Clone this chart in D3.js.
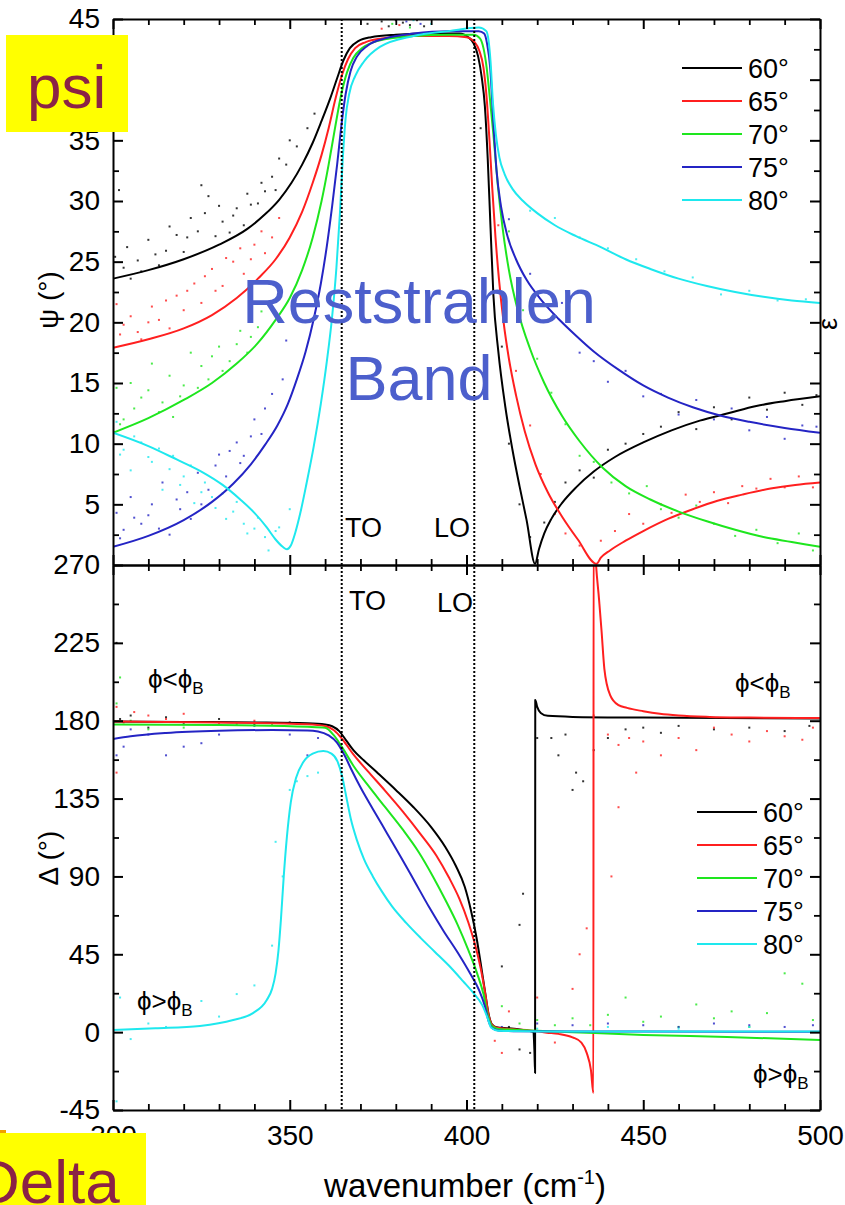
<!DOCTYPE html>
<html>
<head>
<meta charset="utf-8">
<script src="https://cdn.jsdelivr.net/npm/d3@7"></script>
<style>
  body { margin: 0; background: #fff; }
  svg { display: block; }
  text { font-family: "Liberation Sans", Arial, sans-serif; }
</style>
</head>
<body>
<svg id="chart" width="845" height="1205"></svg>
<script>
// ---- series labels and colours ----
const angles = ["60°", "65°", "70°", "75°", "80°"];
const colors = ["#000000", "#ff1f1f", "#1ee61e", "#2424c4", "#1ee8ee"];

// ---- axis ticks ----
const xTicks = [300, 350, 400, 450, 500];
const xMinor = [310, 320, 330, 340, 360, 370, 380, 390, 410, 420, 430, 440, 460, 470, 480, 490];
const psiTicks = [5, 10, 15, 20, 25, 30, 35, 40, 45];
const psiMinor = [2.5, 7.5, 12.5, 17.5, 22.5, 27.5, 32.5, 37.5, 42.5];
const psiHidden = [40];            // label sits under the "psi" tag
const deltaTicks = [-45, 0, 45, 90, 135, 180, 225, 270];
const deltaMinor = [-22.5, 22.5, 67.5, 112.5, 157.5, 202.5, 247.5];

// phonon frequencies (cm-1)
const phononTO = 364.7;
const phononLO = 402.2;

// ---- Psi model curves [wavenumber, psi] ----
const psi60 = [[300,23.6],[310,24.3],[320,25.2],[330,26.4],[338,27.7],[343,28.9],[347,30.1],[350.5,31.5],[353.5,33.0],[356.5,34.8],[359,36.6],[361.5,38.5],[363.5,40.2],[365.2,41.6],[367,42.6],[369.5,43.2],[373,43.5],[380,43.7],[390,43.8],[398,43.8],[400.5,43.5],[402,43.0],[403.3,41.9],[404.3,40.2],[405.2,37.8],[406,33.5],[406.8,27.8],[407.6,22.3],[409,17.6],[411,13.0],[413,9.5],[415,6.5],[417,3.7],[419.4,0.1],[420.5,1.3],[422,2.6],[424,3.8],[427,5.1],[431,6.4],[436,7.7],[442,8.9],[450,10.1],[458,11.1],[466,11.9],[474,12.5],[482,13.1],[490,13.5],[500,13.9]];
const psi65 = [[300,17.9],[310,18.6],[320,19.5],[328,20.6],[335,22.0],[341,23.6],[346,25.2],[350,27.0],[353.5,29.1],[356.5,31.5],[359,33.8],[361,36.0],[363,38.5],[364.8,40.4],[366.5,41.7],[368.5,42.6],[371.5,43.1],[376,43.4],[385,43.6],[395,43.6],[400,43.5],[402.3,43.1],[403.6,42.4],[404.8,41.0],[405.7,38.5],[406.5,35.0],[407.3,31.0],[408.2,27.0],[409.2,23.5],[410.5,20.0],[412,17.0],[414,14.0],[416.5,11.0],[419.5,8.3],[423,6.0],[427,4.0],[431.5,2.1],[436.8,0.1],[438,0.6],[440.6,1.2],[445,2.0],[450,2.8],[457,3.8],[464,4.6],[471,5.3],[478,5.8],[486,6.3],[493,6.6],[500,6.8]];
const psi70 = [[300,10.9],[310,12.1],[320,13.6],[328,15.0],[335,16.6],[341,18.3],[346,20.2],[350,22.0],[353.5,24.3],[356.5,27.0],[359,30.0],[361,33.0],[362.8,36.0],[364.5,38.7],[366.2,40.6],[368,41.8],[370.5,42.6],[375,43.2],[385,43.6],[395,43.7],[402,43.7],[403.8,43.4],[404.8,42.6],[405.7,41.0],[406.6,38.5],[407.6,35.5],[408.8,31.5],[410.2,27.8],[412,24.3],[414.5,21.0],[418,17.8],[422,15.0],[427,12.3],[432,10.2],[438.6,8.0],[445,6.5],[452,5.4],[460,4.4],[468,3.6],[476,2.9],[484,2.3],[492,1.9],[500,1.5]];
const psi75 = [[300,1.5],[310,2.4],[320,3.7],[328,5.2],[334,6.7],[339,8.3],[343,9.9],[346.5,11.5],[349.5,13.3],[352,15.3],[354.5,17.6],[356.8,20.3],[358.8,23.2],[360.5,26.3],[362,29.6],[363.4,33.0],[364.6,36.2],[365.8,38.8],[367.2,40.7],[369,41.9],[372,42.8],[377,43.4],[385,43.8],[395,44.0],[403.5,44.0],[405,43.8],[405.8,43.0],[406.7,41.0],[407.6,36.5],[408.5,32.5],[409.8,29.5],[411.5,27.2],[414,25.2],[417,23.5],[421,21.9],[426,20.3],[431,18.9],[436,17.6],[443,16.1],[450,14.8],[457,13.8],[464,13.0],[472,12.3],[480,11.8],[490,11.3],[500,10.9]];
const psi80 = [[300,10.9],[310,9.8],[318,8.7],[325,7.7],[331,6.6],[336,5.4],[340,4.3],[343.5,3.1],[346,2.1],[348,1.5],[349.2,1.3],[350.3,1.6],[351.5,2.6],[353,4.3],[354.8,6.8],[356.8,9.8],[358.8,13.3],[360.5,16.8],[362,20.5],[363.2,24.5],[364.2,29.0],[365,33.5],[365.8,36.8],[366.8,38.8],[368.5,40.3],[371,41.5],[375.5,42.7],[385,43.6],[395,44.0],[403.5,44.3],[405.6,44.0],[406.1,43.5],[406.8,41.5],[407.5,38.0],[408.3,35.5],[409.3,33.6],[410.8,32.2],[413,31.0],[416,30.0],[420,29.0],[425,28.0],[431,27.1],[438,26.2],[445,25.2],[452,24.4],[460,23.6],[468,23.0],[476,22.5],[484,22.1],[492,21.8],[500,21.6]];

// ---- Delta model curves [wavenumber, delta] ----
const delta60 = [[300,179.5],[320,179.3],[340,179.0],[355,178.5],[360,177.8],[362,176.8],[364,174.0],[366,168.5],[368,163.0],[371,157.0],[375,149.5],[380,140.0],[385,130.0],[390,118.5],[394,107.0],[397,96.0],[399.5,84.0],[401.3,70.0],[402.8,55.0],[404,40.0],[405.2,24.0],[406.2,11.0],[407.2,4.5],[408.5,2.8],[412,2.2],[416,1.2],[418.8,0.2],[419.2,-10],[419.4,-23.6],[419.45,192],[420,188],[421,184.5],[423,182.8],[430,182.2],[450,181.8],[500,181.3]];
const delta65 = [[300,179.5],[330,179.0],[355,178.0],[360,177.0],[362.5,174.5],[365,169.0],[368,160.5],[372,151.0],[377,139.5],[382,127.5],[387,114.5],[391.5,102.0],[395,89.5],[398,77.0],[400.5,63.5],[402.5,50.0],[404,37.0],[405.2,23.5],[406.2,10.5],[407.3,4.0],[409,2.4],[414,1.6],[418,1.0],[422.7,-0.3],[426,-1.0],[430,-3.0],[432.5,-6.0],[434,-12],[435.2,-22],[435.9,-35.2],[435.95,300],[436.5,275],[437.5,250],[438.2,232],[439,210],[440.6,195],[443,189],[445.4,187.4],[450,185.5],[454.7,184.0],[460,183.0],[468.8,182.2],[480,181.8],[500,181.5]];
const delta70 = [[300,177.8],[330,177.5],[355,176.5],[360,176.0],[362.5,171.5],[365,164.0],[368,154.0],[372,143.0],[377,130.0],[382,117.0],[386.5,104.0],[390.5,90.0],[394,76.5],[397.5,62.0],[400.5,47.5],[403,34.0],[404.8,22.0],[406,10.0],[407.2,3.5],[409,1.8],[412,1.5],[420,0.8],[430,0.0],[450,-1.6],[473.7,-2.8],[500,-4.5]];
const delta75 = [[300,169.4],[305,171.0],[315,172.9],[330,174.2],[345,174.6],[355,174.4],[358,173.8],[361,171.5],[363.3,167.5],[365.5,160.0],[367.5,151.5],[370,141.5],[373.5,129.0],[377.5,115.0],[381.5,101.0],[385.5,86.5],[389.5,72.0],[393.5,58.5],[397.5,46.0],[401,34.0],[403.5,24.5],[405.2,15.0],[406.3,6.0],[407.5,2.0],[409,1.0],[415,0.5],[450,0.3],[500,0.2]];
const delta80 = [[300,1.2],[312,2.2],[324.6,3.6],[334,7.0],[339.6,11.0],[343.5,18.6],[345,25],[346,34],[346.8,47],[347.5,65],[348.3,90],[349.2,113],[350.3,133],[351.8,147],[353.8,156],[356.5,161],[359.5,162.5],[361.8,161],[363.5,156.5],[364.8,148],[366,136],[367.3,123],[369,111],[371,100],[373.5,90],[376,81.5],[379,72.5],[383,63],[387,54.5],[391,46.5],[395,38.5],[399,29.5],[402,22.5],[404.5,15.5],[406,8],[407,2.5],[409,0.8],[430,0.3],[500,0.3]];

// ---- measured points [wavenumber, value] ----
const psiPts60 = [[300.6,25.4],[301.7,30.9],[303,24.5],[304,26.2],[305,23.6],[307,25.1],[308,24.2],[310,26.8],[312,25.6],[313,24.7],[315,25.9],[316,27.9],[318,27.2],[320,25.8],[321,27.0],[322,28.6],[324,27.5],[325,31.3],[326,29.0],[327,30.4],[329,27.1],[330,29.6],[331,28.3],[333,27.4],[334,28.8],[335,29.4],[337,28.0],[338,30.6],[339,29.7],[341,29.8],[342,31.5],[343,30.8],[345,32.0],[346,30.9],[347,33.5],[349,33.0],[350,35.0],[352,34.5],[355,36.0],[357,37.2],[372,44.6],[374,45.0],[376,44.8],[378,44.4],[380,44.9],[382,44.7],[384,44.5],[386,44.9],[388,44.4],[404,36],[410,18],[412,10],[415,5],[418,2.3],[422,3.5],[425,5.2],[428,6.8],[432,7.8],[436,7.2],[440,9.5],[445,10.0],[450,10.8],[455,11.4],[460,12.6],[465,11.2],[470,13.0],[475,12.0],[480,13.8],[485,12.8],[490,14.2],[495,13.2],[499,14.0]];
const psiPts65 = [[301,21.5],[302,19.0],[303,19.8],[305,20.5],[307,19.2],[308,18.6],[310,20.0],[311,21.3],[313,20.2],[315,21.8],[316,19.5],[318,22.2],[320,21.0],[321,22.6],[323,23.2],[325,21.6],[326,23.8],[328,24.4],[329,22.6],[331,23.0],[332,25.3],[334,25.0],[336,26.1],[337,24.0],[339,25.2],[340,26.4],[342,27.5],[343,25.7],[345,27.0],[347,28.6],[376,44.2],[381,44.5],[409,28],[411,22],[414,16],[418,11.5],[421,7.5],[425,4.2],[428,2.6],[432,1.6],[438,2.0],[442,2.8],[446,4.2],[450,3.4],[455,5.0],[458,4.3],[462,5.8],[466,5.2],[470,6.0],[474,5.1],[478,6.5],[482,6.3],[486,7.1],[490,6.4],[494,7.3],[498,6.4]];
const psiPts70 = [[301,14.6],[302,11.6],[303,12.0],[305,15.0],[306,12.9],[308,13.8],[310,14.4],[311,16.6],[313,12.6],[314,13.4],[316,15.6],[317,12.2],[319,13.9],[320,14.8],[322,17.5],[324,14.6],[325,16.4],[327,15.3],[328,17.2],[330,18.0],[331,16.0],[333,16.8],[335,18.2],[336,19.3],[338,17.5],[339,18.8],[341,19.6],[342,20.9],[344,21.5],[379,44.6],[384,44.3],[412,27.5],[416,21],[420,17.0],[424,14.2],[428,11.6],[432,9.0],[436,8.5],[441,6.8],[446,5.9],[451,6.5],[455,4.6],[460,3.9],[465,4.9],[470,3.4],[476,2.4],[482,2.9],[488,1.8],[494,2.6],[498,1.2]];
const psiPts75 = [[301,4.3],[302,2.2],[303,2.9],[305,5.6],[306,3.9],[308,3.4],[310,4.1],[311,5.0],[313,3.0],[314,6.8],[316,2.5],[318,5.4],[319,4.6],[321,6.0],[322,3.8],[324,7.6],[325,5.0],[327,6.2],[329,8.2],[330,9.1],[332,7.3],[333,9.4],[335,10.1],[336,8.4],[337,9.0],[339,10.6],[340,12.0],[342,10.8],[343,12.9],[345,14.1],[348,15.3],[349,18.5],[383,44.8],[387,44.6],[412,28.5],[418,24],[423,20.2],[427,21.6],[432,17.5],[436,16.8],[440,15.1],[445,16.0],[450,13.9],[455,14.1],[460,12.4],[465,13.6],[470,12.0],[475,12.9],[480,11.1],[485,12.2],[490,10.4],[495,11.5],[499,11.4]];
const psiPts80 = [[301,11.8],[302,9.1],[303,9.5],[305,7.8],[306,10.6],[308,10.1],[310,8.9],[311,8.5],[313,9.6],[314,6.2],[316,7.9],[317,9.0],[319,6.6],[320,7.3],[322,8.2],[323,5.1],[325,6.0],[326,6.8],[328,5.6],[329,4.7],[331,5.9],[332,3.8],[334,4.4],[335,5.2],[337,3.4],[338,2.6],[340,3.0],[341,3.9],[343,2.3],[344,1.2],[346,2.8],[347,3.1],[350,4.6],[385,44.9],[390,44.6],[418,29.2],[425,28.6],[432,27.0],[440,26.1],[448,25.2],[456,24.2],[464,23.7],[472,22.3],[480,22.6],[488,21.8],[496,21.9]];

const deltaPts60 = [[301,225],[302,181],[305,183],[310,176],[315,182],[320,178],[330,181],[340,178],[350,179],[410,38],[412,3],[415,-10],[418,-12],[415,62],[416,80],[420,170],[424,170],[426,160],[428,172],[430,140],[431,150],[433,145],[436,163],[440,170],[445,175],[450,176],[455,173],[460,177],[470,175],[480,176],[490,174],[497,177]];
const deltaPts65 = [[301,188],[303,179],[306,185],[310,183],[315,181],[320,184],[330,178],[340,180],[301,150],[408,-5],[410,-12],[412,12],[420,20],[425,-6],[430,25],[432,45],[434,60],[441,90],[443,130],[436,183],[440,172],[443,166],[446,170],[448,150],[450,168],[455,160],[460,170],[465,163],[470,176],[475,172],[480,168],[485,174],[490,171],[495,169],[498,176]];
const deltaPts70 = [[301,190],[302,205],[305,180],[310,175],[320,176],[335,178],[345,178],[410,15],[415,5],[420,7],[425,4],[430,8],[435,4],[440,10],[445,20],[450,6],[455,9],[460,3],[465,16],[470,8],[475,12],[480,3],[485,11],[490,34],[495,28],[498,7]];
const deltaPts75 = [[301,160],[303,165],[305,175],[310,172],[315,160],[320,165],[325,167],[330,172],[340,177],[350,172],[355,160],[358,170],[410,3],[420,5],[430,4],[440,5],[450,4],[460,3],[470,5],[480,4],[490,3],[498,4]];
const deltaPts80 = [[301,-40],[302,20],[305,-4],[310,5],[315,3],[320,12],[325,18],[330,9],[335,22],[340,27],[345,50],[346,110],[348,90],[350,140],[352,145],[355,148],[358,150],[420,2],[440,3],[460,2],[480,3]];

const psiCurves = [psi60, psi65, psi70, psi75, psi80];
const deltaCurves = [delta60, delta65, delta70, delta75, delta80];
const psiPoints = [psiPts60, psiPts65, psiPts70, psiPts75, psiPts80];
const deltaPoints = [deltaPts60, deltaPts65, deltaPts70, deltaPts75, deltaPts80];

// ---- layout ----
const L = 113, R = 820, T = 19, MID = 565, B = 1110;
const svg = d3.select("#chart");
svg.append("rect").attr("width", 845).attr("height", 1205).attr("fill", "#fff");

const x = d3.scaleLinear().domain([300, 500]).range([L, R]);
const yPsi = d3.scaleLinear().domain([0, 45]).range([MID, T]);
const yDel = d3.scaleLinear().domain([-45, 270]).range([B, MID]);

const defs = svg.append("defs");
defs.append("clipPath").attr("id", "clipTop").append("rect")
  .attr("x", L).attr("y", T).attr("width", R - L).attr("height", MID - T);
defs.append("clipPath").attr("id", "clipBot").append("rect")
  .attr("x", L).attr("y", MID).attr("width", R - L).attr("height", B - MID);

// ---- data layers ----
function drawPanel(curves, points, y, clipId) {
  const g = svg.append("g").attr("clip-path", `url(#${clipId})`);
  points.forEach((pts, i) => {
    g.append("g").selectAll("rect").data(pts).join("rect")
      .attr("x", d => x(d[0]) - 1).attr("y", d => y(d[1]) - 1)
      .attr("width", 2).attr("height", 2)
      .attr("fill", colors[i]).attr("opacity", 0.8);
  });
  const line = d3.line().x(d => x(d[0])).y(d => y(d[1])).curve(d3.curveMonotoneX);
  curves.forEach((c, i) => {
    g.append("path").datum(c).attr("d", line)
      .attr("fill", "none").attr("stroke", colors[i]).attr("stroke-width", 2)
      .attr("stroke-linejoin", "round");
  });
}
drawPanel(psiCurves, psiPoints, yPsi, "clipTop");
drawPanel(deltaCurves, deltaPoints, yDel, "clipBot");

// ---- TO / LO markers ----
[phononTO, phononLO].forEach(w => {
  svg.append("line").attr("x1", x(w)).attr("x2", x(w)).attr("y1", T).attr("y2", B)
    .attr("stroke", "#000").attr("stroke-width", 2).attr("stroke-dasharray", "2,2");
});

// ---- axes ----
const plainFormat = d => String(d);   // ASCII hyphen for negatives
function styleAxis(g, width) {
  g.selectAll(".domain").attr("stroke", "#000").attr("stroke-width", 2);
  g.selectAll(".tick line").attr("stroke", "#000").attr("stroke-width", width);
  g.selectAll(".tick text").attr("fill", "#000").attr("font-size", 28)
    .attr("font-family", "'Liberation Sans', Arial, sans-serif");
}
function addAxis(make, tx, ty, majors, minors, fmt, pad) {
  const gMinor = svg.append("g").attr("transform", `translate(${tx},${ty})`)
    .call(make().tickValues(minors).tickSizeInner(-6).tickSizeOuter(0).tickFormat(""));
  gMinor.select(".domain").remove();
  styleAxis(gMinor, 1.8);
  const gMajor = svg.append("g").attr("transform", `translate(${tx},${ty})`)
    .call(make().tickValues(majors).tickSizeInner(-10).tickSizeOuter(0)
      .tickPadding(pad || 8).tickFormat(fmt || (() => "")));
  styleAxis(gMajor, 2);
  return gMajor;
}
// Psi panel
addAxis(() => d3.axisLeft(yPsi), L, 0, psiTicks, psiMinor,
  d => psiHidden.includes(d) ? "" : plainFormat(d), 13);
addAxis(() => d3.axisRight(yPsi), R, 0, psiTicks, psiMinor, null);
addAxis(() => d3.axisTop(x), 0, T, xTicks, xMinor, null);
addAxis(() => d3.axisBottom(x), 0, MID, xTicks, xMinor, null);
// Delta panel
addAxis(() => d3.axisLeft(yDel), L, 0, deltaTicks, deltaMinor, plainFormat, 13);
addAxis(() => d3.axisRight(yDel), R, 0, deltaTicks, deltaMinor, null);
addAxis(() => d3.axisTop(x), 0, MID, xTicks, xMinor, null);
addAxis(() => d3.axisBottom(x), 0, B, xTicks, xMinor, plainFormat, 15);

// ---- axis titles ----
svg.append("text").attr("transform", "translate(58,300) rotate(-90)")
  .attr("text-anchor", "middle").attr("font-size", 28).text("ψ (°)");
svg.append("text").attr("transform", "translate(58,858) rotate(-90)")
  .attr("text-anchor", "middle").attr("font-size", 28).text("Δ (°)");
const xt = svg.append("text").attr("x", 465).attr("y", 1197)
  .attr("text-anchor", "middle").attr("font-size", 33);
xt.append("tspan").text("wavenumber (cm");
xt.append("tspan").attr("font-size", 20).attr("dy", -13).text("-1");
xt.append("tspan").attr("dy", 13).text(")");
svg.append("text").attr("transform", "translate(837,324) rotate(-90)")
  .attr("text-anchor", "middle").attr("font-size", 27).text("ε");

// ---- legends ----
function legend(x0, y0, step) {
  angles.forEach((a, i) => {
    const yy = y0 + i * step;
    svg.append("line").attr("x1", x0).attr("x2", x0 + 60).attr("y1", yy).attr("y2", yy)
      .attr("stroke", colors[i]).attr("stroke-width", 2);
    svg.append("text").attr("x", x0 + 66).attr("y", yy + 10).attr("font-size", 27).text(a);
  });
}
legend(682, 68, 33);
legend(697, 812, 33);

// ---- annotations ----
function phiLabel(x0, y0, rel) {
  const t = svg.append("text").attr("x", x0).attr("y", y0).attr("font-size", 26);
  t.append("tspan").text("ϕ" + rel + "ϕ");
  t.append("tspan").attr("font-size", 17).attr("dy", 6).text("B");
}
phiLabel(148, 688, "<");
phiLabel(735, 692, "<");
phiLabel(137, 1010, ">");
phiLabel(753, 1083, ">");

svg.append("text").attr("x", 345).attr("y", 537).attr("font-size", 27).text("TO");
svg.append("text").attr("x", 434).attr("y", 537).attr("font-size", 27).text("LO");
svg.append("text").attr("x", 349).attr("y", 610).attr("font-size", 27).text("TO");
svg.append("text").attr("x", 437).attr("y", 612).attr("font-size", 27).text("LO");

const band = svg.append("text").attr("text-anchor", "middle").attr("font-size", 63)
  .attr("fill", "#4c5fcc");
band.append("tspan").attr("x", 419).attr("y", 323).text("Reststrahlen");
band.append("tspan").attr("x", 419).attr("y", 400).text("Band");

// ---- panel tags ----
svg.append("rect").attr("x", 6).attr("y", 35).attr("width", 122).attr("height", 97).attr("fill", "#ffff00");
svg.append("text").attr("x", 27).attr("y", 108).attr("font-size", 62).attr("fill", "#8b2246").text("psi");
svg.append("rect").attr("x", 0).attr("y", 1130).attr("width", 6).attr("height", 4).attr("fill", "#f0a000");
svg.append("rect").attr("x", 0).attr("y", 1133).attr("width", 146).attr("height", 72).attr("fill", "#ffff00");
svg.append("text").attr("x", -25).attr("y", 1203).attr("font-size", 62).attr("fill", "#8b2246").text("Delta");
</script>
</body>
</html>
